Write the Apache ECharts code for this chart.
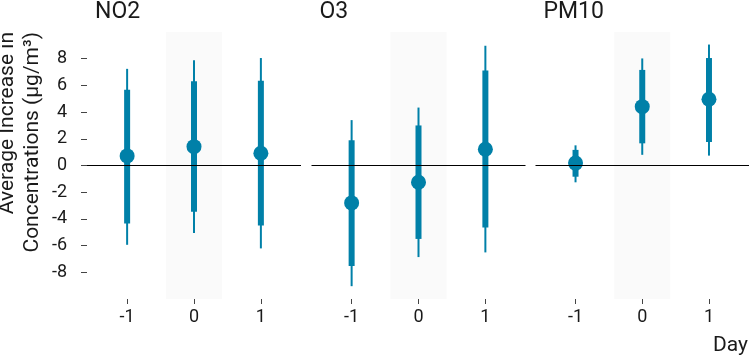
<!DOCTYPE html>
<html>
<head>
<meta charset="utf-8">
<script src="https://cdn.jsdelivr.net/npm/echarts@6/dist/echarts.min.js"></script>
<style>
  html, body { margin: 0; padding: 0; background: #fff; }
  #chart { width: 749px; height: 360px; }
</style>
</head>
<body>
<div id="chart"></div>
<script>
// panels and x categories
const pollutants = ['NO2', 'O3', 'PM10'];
const days = [-1, 0, 1];

// point estimates and intervals, one row per pollutant, one value per day
const estimate = [
  [0.72, 1.41, 0.92],
  [-2.8, -1.26, 1.22],
  [0.18, 4.41, 4.96]
];
const lower80 = [
  [-4.35, -3.46, -4.5],
  [-7.53, -5.5, -4.65],
  [-0.84, 1.66, 1.76]
];
const upper80 = [
  [5.67, 6.32, 6.34],
  [1.89, 3.0, 7.11],
  [1.17, 7.16, 8.05]
];
const lower95 = [
  [-5.94, -5.05, -6.21],
  [-9.04, -6.86, -6.51],
  [-1.26, 0.8, 0.74]
];
const upper95 = [
  [7.24, 7.88, 8.05],
  [3.4, 4.34, 8.97],
  [1.51, 8.02, 9.06]
];

const yTicks = [-8, -6, -4, -2, 0, 2, 4, 6, 8];
const yLabel = 'Average Increase in\nConcentrations (µg/m³)';
const xLabel = 'Day';

const color = '#0080a8';
const font = 'Roboto, "Noto Sans", sans-serif';
const textColor = '#1a1a1a';
const panelLeft = [87, 311.5, 535.5];
const panelWidth = 214;
const panelTop = 32;
const panelHeight = 267;

const chart = echarts.init(document.getElementById('chart'));

const grid = [], xAxis = [], yAxis = [], series = [], graphic = [];

pollutants.forEach((name, i) => {
  grid.push({ left: panelLeft[i], top: panelTop, width: panelWidth, height: panelHeight });

  xAxis.push({
    type: 'value', gridIndex: i, min: -1.6, max: 1.6,
    axisLine: { show: false, onZero: false },
    splitLine: { show: false },
    axisTick: { show: true, customValues: days, length: 5, lineStyle: { color: '#444', width: 1 } },
    axisLabel: { customValues: days, fontSize: 18, fontFamily: font, color: textColor, margin: 9 }
  });

  yAxis.push({
    type: 'value', gridIndex: i, min: -10, max: 10, interval: 2,
    axisLine: { show: false, onZero: false },
    splitLine: { show: false },
    axisTick: { show: i === 0, customValues: yTicks, length: 6, lineStyle: { color: '#444', width: 1 } },
    axisLabel: { show: i === 0, customValues: yTicks, fontSize: 18, fontFamily: font, color: textColor, margin: 20 }
  });

  // shaded day-0 band and zero reference line
  series.push({
    type: 'line', xAxisIndex: i, yAxisIndex: i, data: [], z: 1, silent: true,
    markArea: {
      silent: true,
      itemStyle: { color: '#fafafa' },
      data: [[{ xAxis: -0.42, yAxis: -10 }, { xAxis: 0.42, yAxis: 10 }]]
    },
    markLine: {
      silent: true, symbol: ['none', 'none'], label: { show: false },
      lineStyle: { color: '#000', width: 1, type: 'solid' },
      data: [{ yAxis: 0 }]
    }
  });

  series.push({
    type: 'custom', xAxisIndex: i, yAxisIndex: i, z: 3,
    data: days.map((d, j) => [d, lower95[i][j], lower80[i][j], estimate[i][j], upper80[i][j], upper95[i][j]]),
    renderItem: (params, api) => {
      const x = api.value(0);
      const a95 = api.coord([x, api.value(1)]);
      const a80 = api.coord([x, api.value(2)]);
      const est = api.coord([x, api.value(3)]);
      const b80 = api.coord([x, api.value(4)]);
      const b95 = api.coord([x, api.value(5)]);
      return {
        type: 'group',
        children: [
          { type: 'line', shape: { x1: a95[0], y1: a95[1], x2: b95[0], y2: b95[1] }, style: { stroke: color, lineWidth: 2 } },
          { type: 'line', shape: { x1: a80[0], y1: a80[1], x2: b80[0], y2: b80[1] }, style: { stroke: color, lineWidth: 6 } },
          { type: 'circle', shape: { cx: est[0], cy: est[1], r: 7.5 }, style: { fill: color } }
        ]
      };
    }
  });

  graphic.push({
    type: 'text', x: panelLeft[i] + 8, y: 12,
    style: { text: name, font: '23px ' + font, fill: textColor, textVerticalAlign: 'middle' }
  });
});

graphic.push({
  type: 'text', x: -5, y: 32, rotation: Math.PI / 2,
  style: { text: yLabel, font: '21px ' + font, fill: textColor, textAlign: 'right', textVerticalAlign: 'top', lineHeight: 25 }
});
graphic.push({
  type: 'text', x: 748, y: 346,
  style: { text: xLabel, font: '21px ' + font, fill: textColor, textAlign: 'right', textVerticalAlign: 'middle' }
});

chart.setOption({
  animation: false,
  backgroundColor: '#fff',
  grid, xAxis, yAxis, series, graphic
});
</script>
</body>
</html>
